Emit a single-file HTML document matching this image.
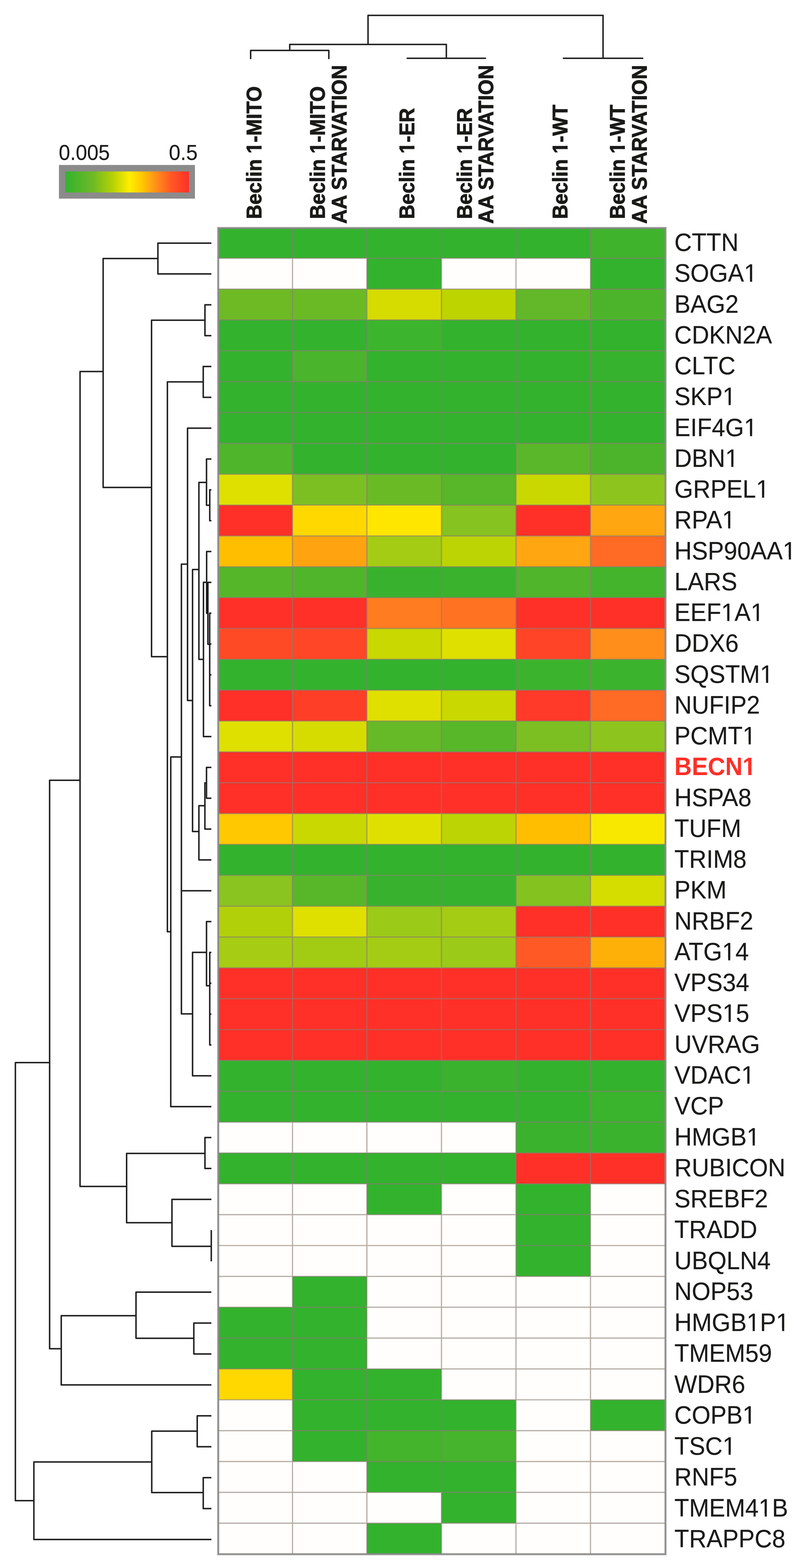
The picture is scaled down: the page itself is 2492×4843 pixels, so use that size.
<!DOCTYPE html>
<html lang="en"><head><meta charset="utf-8"><title>Beclin 1 interactome heatmap</title>
<style>
html,body{margin:0;padding:0;background:#fff;}
body{width:2492px;height:4843px;overflow:hidden;}
svg{display:block;}
.rl{font-family:"Liberation Sans",Arial,Helvetica,sans-serif;font-size:78px;fill:#1a1a18;stroke:#1a1a18;stroke-opacity:0.3;stroke-width:1.1px;paint-order:stroke;}
.cl{font-family:"Liberation Sans",Arial,Helvetica,sans-serif;font-size:64.5px;font-weight:bold;fill:#1a1a18;stroke:#1a1a18;stroke-width:1.5px;stroke-linejoin:round;paint-order:stroke;}
.sc{font-family:"Liberation Sans",Arial,Helvetica,sans-serif;font-size:67px;fill:#1a1a18;stroke:#1a1a18;stroke-opacity:0.3;stroke-width:1.0px;paint-order:stroke;}
.dn{fill:none;stroke:#1b1b1b;stroke-width:4;stroke-linejoin:round;stroke-linecap:butt;}
.dh{fill:none;stroke:#1b1b1b;stroke-opacity:0.3;stroke-width:5.6;stroke-linejoin:round;stroke-linecap:butt;}
</style></head><body>
<svg width="2492" height="4843" viewBox="0 0 2492 4843">
<defs><linearGradient id="cb" x1="0" y1="0" x2="1" y2="0">
<stop offset="0" stop-color="#33b22e"/>
<stop offset="0.22" stop-color="#6db926"/>
<stop offset="0.38" stop-color="#b4d005"/>
<stop offset="0.52" stop-color="#ffee00"/>
<stop offset="0.62" stop-color="#ffc800"/>
<stop offset="0.72" stop-color="#ff9618"/>
<stop offset="0.85" stop-color="#ff5a24"/>
<stop offset="1" stop-color="#ff3028"/>
</linearGradient>
<clipPath id="k1"><path clip-rule="evenodd" d="M-30 -85.8H298.8V31.2H-30ZM228.33 -7.43H245.00V3H228.33ZM251.90 -7.43H267.96V3H251.90Z"/></clipPath>
<clipPath id="k2"><path clip-rule="evenodd" d="M-30 -85.8H229.5V31.2H-30ZM159.00 -7.43H175.68V3H159.00ZM182.57 -7.43H198.63V3H182.57Z"/></clipPath>
<clipPath id="k3"><path clip-rule="evenodd" d="M-30 -85.8H298.8V31.2H-30ZM228.33 -7.43H245.00V3H228.33ZM251.90 -7.43H267.96V3H251.90Z"/></clipPath>
<clipPath id="k4"><path clip-rule="evenodd" d="M-30 -85.8H238.1V31.2H-30ZM167.61 -7.43H184.29V3H167.61ZM191.18 -7.43H207.24V3H191.18Z"/></clipPath>
<clipPath id="k5"><path clip-rule="evenodd" d="M-30 -85.8H337.8V31.2H-30ZM267.36 -7.43H284.04V3H267.36ZM290.93 -7.43H306.99V3H290.93Z"/></clipPath>
<clipPath id="k6"><path clip-rule="evenodd" d="M-30 -85.8H228.0V31.2H-30ZM157.52 -7.43H174.19V3H157.52ZM181.09 -7.43H197.15V3H181.09Z"/></clipPath>
<clipPath id="k7"><path clip-rule="evenodd" d="M-30 -85.8H424.6V31.2H-30ZM354.13 -7.43H370.80V3H354.13ZM377.70 -7.43H393.76V3H377.70Z"/></clipPath>
<clipPath id="k8"><path clip-rule="evenodd" d="M-30 -85.8H320.5V31.2H-30ZM154.63 -7.43H171.30V3H154.63ZM178.20 -7.43H194.26V3H178.20ZM250.04 -7.43H266.71V3H250.04ZM273.60 -7.43H289.67V3H273.60Z"/></clipPath>
<clipPath id="k9"><path clip-rule="evenodd" d="M-30 -85.8H350.7V31.2H-30ZM280.27 -7.43H296.94V3H280.27ZM303.84 -7.43H319.90V3H303.84Z"/></clipPath>
<clipPath id="k10"><path clip-rule="evenodd" d="M-30 -85.8H294.4V31.2H-30ZM223.91 -7.43H240.58V3H223.91ZM247.48 -7.43H263.54V3H247.48Z"/></clipPath>
<clipPath id="k11"><path clip-rule="evenodd" d="M-30 -85.8H294.4V31.2H-30ZM222.91 -9.56H239.21V3H222.91ZM249.91 -9.56H265.21V3H249.91Z"/></clipPath>
<clipPath id="k12"><path clip-rule="evenodd" d="M-30 -85.8H271.3V31.2H-30ZM157.49 -7.43H174.16V3H157.49ZM181.05 -7.43H197.12V3H181.05Z"/></clipPath>
<clipPath id="k13"><path clip-rule="evenodd" d="M-30 -85.8H272.8V31.2H-30ZM159.00 -7.43H175.68V3H159.00ZM182.57 -7.43H198.63V3H182.57Z"/></clipPath>
<clipPath id="k14"><path clip-rule="evenodd" d="M-30 -85.8H290.1V31.2H-30ZM219.64 -7.43H236.32V3H219.64ZM243.21 -7.43H259.27V3H243.21Z"/></clipPath>
<clipPath id="k15"><path clip-rule="evenodd" d="M-30 -85.8H307.4V31.2H-30ZM236.94 -7.43H253.61V3H236.94ZM260.51 -7.43H276.57V3H260.51Z"/></clipPath>
<clipPath id="k16"><path clip-rule="evenodd" d="M-30 -85.8H402.8V31.2H-30ZM236.94 -7.43H253.61V3H236.94ZM260.51 -7.43H276.57V3H260.51ZM332.33 -7.43H349.00V3H332.33ZM355.90 -7.43H371.96V3H355.90Z"/></clipPath>
<clipPath id="k17"><path clip-rule="evenodd" d="M-30 -85.8H294.4V31.2H-30ZM223.99 -7.43H240.66V3H223.99ZM247.55 -7.43H263.62V3H247.55Z"/></clipPath>
<clipPath id="k18"><path clip-rule="evenodd" d="M-30 -85.8H229.4V31.2H-30ZM158.94 -7.43H175.61V3H158.94ZM182.51 -7.43H198.57V3H182.51Z"/></clipPath>
<clipPath id="k19"><path clip-rule="evenodd" d="M-30 -85.8H398.4V31.2H-30ZM275.94 -7.43H292.61V3H275.94ZM299.51 -7.43H315.57V3H299.51Z"/></clipPath>
<clipPath id="k20"><path clip-rule="evenodd" d="M-30 -71.0H458.9V25.8H-30ZM212.53 -8.93H225.77V3H212.53ZM236.12 -8.93H248.55V3H236.12Z"/></clipPath>
<clipPath id="k21"><path clip-rule="evenodd" d="M-30 -71.0H388.4V25.8H-30ZM212.53 -8.93H225.77V3H212.53ZM236.12 -8.93H248.55V3H236.12Z"/></clipPath>
<clipPath id="k22"><path clip-rule="evenodd" d="M-30 -71.0H399.1V25.8H-30ZM212.53 -8.93H225.77V3H212.53ZM236.12 -8.93H248.55V3H236.12Z"/></clipPath>
</defs>
<rect x="0" y="0" width="2492" height="4843" fill="#ffffff"/>
<g id="scale">
<rect x="182" y="509.5" width="420" height="104" fill="#8b8b8b"/>
<rect x="201.5" y="529.5" width="382" height="65" fill="url(#cb)"/>
<text class="sc" transform="translate(181.5,494.3) scale(0.94,1)">0.005</text>
<text class="sc" transform="translate(521.5,494.3) scale(0.955,1)">0.5</text>
</g>
<g id="cells">
<rect x="673.9" y="704.3" width="229.3" height="93.3" fill="#33b22e"/>
<rect x="903.2" y="704.3" width="229.7" height="93.3" fill="#33b22e"/>
<rect x="1132.9" y="704.3" width="230.3" height="93.3" fill="#33b22e"/>
<rect x="1363.2" y="704.3" width="230.1" height="93.3" fill="#33b22e"/>
<rect x="1593.3" y="704.3" width="230.1" height="93.3" fill="#33b22e"/>
<rect x="1823.4" y="704.3" width="231.6" height="93.3" fill="#40b32d"/>
<rect x="673.9" y="797.6" width="229.3" height="95.3" fill="#fffefc"/>
<rect x="903.2" y="797.6" width="229.7" height="95.3" fill="#fffefc"/>
<rect x="1132.9" y="797.6" width="230.3" height="95.3" fill="#33b22e"/>
<rect x="1363.2" y="797.6" width="230.1" height="95.3" fill="#fffefc"/>
<rect x="1593.3" y="797.6" width="230.1" height="95.3" fill="#fffefc"/>
<rect x="1823.4" y="797.6" width="231.6" height="95.3" fill="#33b22e"/>
<rect x="673.9" y="892.9" width="229.3" height="95.3" fill="#6dba25"/>
<rect x="903.2" y="892.9" width="229.7" height="95.3" fill="#6aba26"/>
<rect x="1132.9" y="892.9" width="230.3" height="95.3" fill="#d6dc00"/>
<rect x="1363.2" y="892.9" width="230.1" height="95.3" fill="#bdd400"/>
<rect x="1593.3" y="892.9" width="230.1" height="95.3" fill="#62b828"/>
<rect x="1823.4" y="892.9" width="231.6" height="95.3" fill="#4cb42b"/>
<rect x="673.9" y="988.2" width="229.3" height="95.3" fill="#33b22e"/>
<rect x="903.2" y="988.2" width="229.7" height="95.3" fill="#33b22e"/>
<rect x="1132.9" y="988.2" width="230.3" height="95.3" fill="#3db42d"/>
<rect x="1363.2" y="988.2" width="230.1" height="95.3" fill="#33b22e"/>
<rect x="1593.3" y="988.2" width="230.1" height="95.3" fill="#33b22e"/>
<rect x="1823.4" y="988.2" width="231.6" height="95.3" fill="#33b22e"/>
<rect x="673.9" y="1083.5" width="229.3" height="95.3" fill="#33b22e"/>
<rect x="903.2" y="1083.5" width="229.7" height="95.3" fill="#4ab42c"/>
<rect x="1132.9" y="1083.5" width="230.3" height="95.3" fill="#33b22e"/>
<rect x="1363.2" y="1083.5" width="230.1" height="95.3" fill="#33b22e"/>
<rect x="1593.3" y="1083.5" width="230.1" height="95.3" fill="#33b22e"/>
<rect x="1823.4" y="1083.5" width="231.6" height="95.3" fill="#36b22e"/>
<rect x="673.9" y="1178.8" width="229.3" height="95.3" fill="#33b22e"/>
<rect x="903.2" y="1178.8" width="229.7" height="95.3" fill="#33b22e"/>
<rect x="1132.9" y="1178.8" width="230.3" height="95.3" fill="#33b22e"/>
<rect x="1363.2" y="1178.8" width="230.1" height="95.3" fill="#33b22e"/>
<rect x="1593.3" y="1178.8" width="230.1" height="95.3" fill="#33b22e"/>
<rect x="1823.4" y="1178.8" width="231.6" height="95.3" fill="#33b22e"/>
<rect x="673.9" y="1274.1" width="229.3" height="95.3" fill="#33b22e"/>
<rect x="903.2" y="1274.1" width="229.7" height="95.3" fill="#33b22e"/>
<rect x="1132.9" y="1274.1" width="230.3" height="95.3" fill="#33b22e"/>
<rect x="1363.2" y="1274.1" width="230.1" height="95.3" fill="#33b22e"/>
<rect x="1593.3" y="1274.1" width="230.1" height="95.3" fill="#33b22e"/>
<rect x="1823.4" y="1274.1" width="231.6" height="95.3" fill="#33b22e"/>
<rect x="673.9" y="1369.4" width="229.3" height="95.3" fill="#4fb52b"/>
<rect x="903.2" y="1369.4" width="229.7" height="95.3" fill="#33b22e"/>
<rect x="1132.9" y="1369.4" width="230.3" height="95.3" fill="#33b22e"/>
<rect x="1363.2" y="1369.4" width="230.1" height="95.3" fill="#33b22e"/>
<rect x="1593.3" y="1369.4" width="230.1" height="95.3" fill="#5ab729"/>
<rect x="1823.4" y="1369.4" width="231.6" height="95.3" fill="#4cb42b"/>
<rect x="673.9" y="1464.7" width="229.3" height="95.3" fill="#dfe000"/>
<rect x="903.2" y="1464.7" width="229.7" height="95.3" fill="#7cbf22"/>
<rect x="1132.9" y="1464.7" width="230.3" height="95.3" fill="#6aba26"/>
<rect x="1363.2" y="1464.7" width="230.1" height="95.3" fill="#58b629"/>
<rect x="1593.3" y="1464.7" width="230.1" height="95.3" fill="#c8d800"/>
<rect x="1823.4" y="1464.7" width="231.6" height="95.3" fill="#8ec41e"/>
<rect x="673.9" y="1560.0" width="229.3" height="95.3" fill="#ff3028"/>
<rect x="903.2" y="1560.0" width="229.7" height="95.3" fill="#ffd800"/>
<rect x="1132.9" y="1560.0" width="230.3" height="95.3" fill="#ffe600"/>
<rect x="1363.2" y="1560.0" width="230.1" height="95.3" fill="#86c220"/>
<rect x="1593.3" y="1560.0" width="230.1" height="95.3" fill="#ff3028"/>
<rect x="1823.4" y="1560.0" width="231.6" height="95.3" fill="#ffa610"/>
<rect x="673.9" y="1655.3" width="229.3" height="95.3" fill="#ffbe00"/>
<rect x="903.2" y="1655.3" width="229.7" height="95.3" fill="#ffa410"/>
<rect x="1132.9" y="1655.3" width="230.3" height="95.3" fill="#a4cc14"/>
<rect x="1363.2" y="1655.3" width="230.1" height="95.3" fill="#bcd404"/>
<rect x="1593.3" y="1655.3" width="230.1" height="95.3" fill="#ffa610"/>
<rect x="1823.4" y="1655.3" width="231.6" height="95.3" fill="#ff6a24"/>
<rect x="673.9" y="1750.6" width="229.3" height="95.3" fill="#56b62a"/>
<rect x="903.2" y="1750.6" width="229.7" height="95.3" fill="#50b52b"/>
<rect x="1132.9" y="1750.6" width="230.3" height="95.3" fill="#38b22e"/>
<rect x="1363.2" y="1750.6" width="230.1" height="95.3" fill="#3ab22e"/>
<rect x="1593.3" y="1750.6" width="230.1" height="95.3" fill="#50b52b"/>
<rect x="1823.4" y="1750.6" width="231.6" height="95.3" fill="#44b42c"/>
<rect x="673.9" y="1845.8" width="229.3" height="95.3" fill="#ff3028"/>
<rect x="903.2" y="1845.8" width="229.7" height="95.3" fill="#ff3028"/>
<rect x="1132.9" y="1845.8" width="230.3" height="95.3" fill="#ff7c20"/>
<rect x="1363.2" y="1845.8" width="230.1" height="95.3" fill="#ff7222"/>
<rect x="1593.3" y="1845.8" width="230.1" height="95.3" fill="#ff3028"/>
<rect x="1823.4" y="1845.8" width="231.6" height="95.3" fill="#ff3028"/>
<rect x="673.9" y="1941.1" width="229.3" height="95.3" fill="#ff4a26"/>
<rect x="903.2" y="1941.1" width="229.7" height="95.3" fill="#ff4626"/>
<rect x="1132.9" y="1941.1" width="230.3" height="95.3" fill="#c8d800"/>
<rect x="1363.2" y="1941.1" width="230.1" height="95.3" fill="#dfe000"/>
<rect x="1593.3" y="1941.1" width="230.1" height="95.3" fill="#ff4428"/>
<rect x="1823.4" y="1941.1" width="231.6" height="95.3" fill="#ff8e1a"/>
<rect x="673.9" y="2036.4" width="229.3" height="95.3" fill="#33b22e"/>
<rect x="903.2" y="2036.4" width="229.7" height="95.3" fill="#33b22e"/>
<rect x="1132.9" y="2036.4" width="230.3" height="95.3" fill="#33b22e"/>
<rect x="1363.2" y="2036.4" width="230.1" height="95.3" fill="#33b22e"/>
<rect x="1593.3" y="2036.4" width="230.1" height="95.3" fill="#3cb32d"/>
<rect x="1823.4" y="2036.4" width="231.6" height="95.3" fill="#3cb32d"/>
<rect x="673.9" y="2131.7" width="229.3" height="95.3" fill="#ff3028"/>
<rect x="903.2" y="2131.7" width="229.7" height="95.3" fill="#ff3e28"/>
<rect x="1132.9" y="2131.7" width="230.3" height="95.3" fill="#dfe000"/>
<rect x="1363.2" y="2131.7" width="230.1" height="95.3" fill="#c8d800"/>
<rect x="1593.3" y="2131.7" width="230.1" height="95.3" fill="#ff3a28"/>
<rect x="1823.4" y="2131.7" width="231.6" height="95.3" fill="#ff6a24"/>
<rect x="673.9" y="2227.0" width="229.3" height="95.3" fill="#dfe000"/>
<rect x="903.2" y="2227.0" width="229.7" height="95.3" fill="#d6dc00"/>
<rect x="1132.9" y="2227.0" width="230.3" height="95.3" fill="#66b927"/>
<rect x="1363.2" y="2227.0" width="230.1" height="95.3" fill="#58b629"/>
<rect x="1593.3" y="2227.0" width="230.1" height="95.3" fill="#7cbf22"/>
<rect x="1823.4" y="2227.0" width="231.6" height="95.3" fill="#8ec41e"/>
<rect x="673.9" y="2322.3" width="229.3" height="95.3" fill="#ff3028"/>
<rect x="903.2" y="2322.3" width="229.7" height="95.3" fill="#ff3028"/>
<rect x="1132.9" y="2322.3" width="230.3" height="95.3" fill="#ff3028"/>
<rect x="1363.2" y="2322.3" width="230.1" height="95.3" fill="#ff3028"/>
<rect x="1593.3" y="2322.3" width="230.1" height="95.3" fill="#ff3028"/>
<rect x="1823.4" y="2322.3" width="231.6" height="95.3" fill="#ff3028"/>
<rect x="673.9" y="2417.6" width="229.3" height="95.3" fill="#ff3028"/>
<rect x="903.2" y="2417.6" width="229.7" height="95.3" fill="#ff3028"/>
<rect x="1132.9" y="2417.6" width="230.3" height="95.3" fill="#ff3028"/>
<rect x="1363.2" y="2417.6" width="230.1" height="95.3" fill="#ff3028"/>
<rect x="1593.3" y="2417.6" width="230.1" height="95.3" fill="#ff3028"/>
<rect x="1823.4" y="2417.6" width="231.6" height="95.3" fill="#ff3028"/>
<rect x="673.9" y="2512.9" width="229.3" height="95.3" fill="#ffc800"/>
<rect x="903.2" y="2512.9" width="229.7" height="95.3" fill="#c8d800"/>
<rect x="1132.9" y="2512.9" width="230.3" height="95.3" fill="#e0e000"/>
<rect x="1363.2" y="2512.9" width="230.1" height="95.3" fill="#bcd404"/>
<rect x="1593.3" y="2512.9" width="230.1" height="95.3" fill="#ffbe00"/>
<rect x="1823.4" y="2512.9" width="231.6" height="95.3" fill="#f8e800"/>
<rect x="673.9" y="2608.2" width="229.3" height="95.3" fill="#33b22e"/>
<rect x="903.2" y="2608.2" width="229.7" height="95.3" fill="#33b22e"/>
<rect x="1132.9" y="2608.2" width="230.3" height="95.3" fill="#33b22e"/>
<rect x="1363.2" y="2608.2" width="230.1" height="95.3" fill="#33b22e"/>
<rect x="1593.3" y="2608.2" width="230.1" height="95.3" fill="#33b22e"/>
<rect x="1823.4" y="2608.2" width="231.6" height="95.3" fill="#33b22e"/>
<rect x="673.9" y="2703.5" width="229.3" height="95.3" fill="#8ac420"/>
<rect x="903.2" y="2703.5" width="229.7" height="95.3" fill="#58b629"/>
<rect x="1132.9" y="2703.5" width="230.3" height="95.3" fill="#38b22e"/>
<rect x="1363.2" y="2703.5" width="230.1" height="95.3" fill="#36b22e"/>
<rect x="1593.3" y="2703.5" width="230.1" height="95.3" fill="#84c220"/>
<rect x="1823.4" y="2703.5" width="231.6" height="95.3" fill="#d4dc00"/>
<rect x="673.9" y="2798.8" width="229.3" height="95.3" fill="#b2d00a"/>
<rect x="903.2" y="2798.8" width="229.7" height="95.3" fill="#e0e000"/>
<rect x="1132.9" y="2798.8" width="230.3" height="95.3" fill="#9cca18"/>
<rect x="1363.2" y="2798.8" width="230.1" height="95.3" fill="#a4cc14"/>
<rect x="1593.3" y="2798.8" width="230.1" height="95.3" fill="#ff3028"/>
<rect x="1823.4" y="2798.8" width="231.6" height="95.3" fill="#ff3028"/>
<rect x="673.9" y="2894.1" width="229.3" height="95.3" fill="#a6cc14"/>
<rect x="903.2" y="2894.1" width="229.7" height="95.3" fill="#a2cc14"/>
<rect x="1132.9" y="2894.1" width="230.3" height="95.3" fill="#a4cc14"/>
<rect x="1363.2" y="2894.1" width="230.1" height="95.3" fill="#9cca18"/>
<rect x="1593.3" y="2894.1" width="230.1" height="95.3" fill="#ff5a26"/>
<rect x="1823.4" y="2894.1" width="231.6" height="95.3" fill="#ffb008"/>
<rect x="673.9" y="2989.4" width="229.3" height="95.3" fill="#ff3028"/>
<rect x="903.2" y="2989.4" width="229.7" height="95.3" fill="#ff3028"/>
<rect x="1132.9" y="2989.4" width="230.3" height="95.3" fill="#ff3028"/>
<rect x="1363.2" y="2989.4" width="230.1" height="95.3" fill="#ff3028"/>
<rect x="1593.3" y="2989.4" width="230.1" height="95.3" fill="#ff3028"/>
<rect x="1823.4" y="2989.4" width="231.6" height="95.3" fill="#ff3028"/>
<rect x="673.9" y="3084.7" width="229.3" height="95.3" fill="#ff3028"/>
<rect x="903.2" y="3084.7" width="229.7" height="95.3" fill="#ff3028"/>
<rect x="1132.9" y="3084.7" width="230.3" height="95.3" fill="#ff3028"/>
<rect x="1363.2" y="3084.7" width="230.1" height="95.3" fill="#ff3028"/>
<rect x="1593.3" y="3084.7" width="230.1" height="95.3" fill="#ff3028"/>
<rect x="1823.4" y="3084.7" width="231.6" height="95.3" fill="#ff3028"/>
<rect x="673.9" y="3180.0" width="229.3" height="95.3" fill="#ff3028"/>
<rect x="903.2" y="3180.0" width="229.7" height="95.3" fill="#ff3028"/>
<rect x="1132.9" y="3180.0" width="230.3" height="95.3" fill="#ff3028"/>
<rect x="1363.2" y="3180.0" width="230.1" height="95.3" fill="#ff3028"/>
<rect x="1593.3" y="3180.0" width="230.1" height="95.3" fill="#ff3028"/>
<rect x="1823.4" y="3180.0" width="231.6" height="95.3" fill="#ff3028"/>
<rect x="673.9" y="3275.3" width="229.3" height="95.3" fill="#33b22e"/>
<rect x="903.2" y="3275.3" width="229.7" height="95.3" fill="#33b22e"/>
<rect x="1132.9" y="3275.3" width="230.3" height="95.3" fill="#33b22e"/>
<rect x="1363.2" y="3275.3" width="230.1" height="95.3" fill="#3ab22e"/>
<rect x="1593.3" y="3275.3" width="230.1" height="95.3" fill="#33b22e"/>
<rect x="1823.4" y="3275.3" width="231.6" height="95.3" fill="#33b22e"/>
<rect x="673.9" y="3370.6" width="229.3" height="95.3" fill="#33b22e"/>
<rect x="903.2" y="3370.6" width="229.7" height="95.3" fill="#33b22e"/>
<rect x="1132.9" y="3370.6" width="230.3" height="95.3" fill="#33b22e"/>
<rect x="1363.2" y="3370.6" width="230.1" height="95.3" fill="#33b22e"/>
<rect x="1593.3" y="3370.6" width="230.1" height="95.3" fill="#33b22e"/>
<rect x="1823.4" y="3370.6" width="231.6" height="95.3" fill="#3ab32d"/>
<rect x="673.9" y="3465.9" width="229.3" height="95.3" fill="#fffefc"/>
<rect x="903.2" y="3465.9" width="229.7" height="95.3" fill="#fffefc"/>
<rect x="1132.9" y="3465.9" width="230.3" height="95.3" fill="#fffefc"/>
<rect x="1363.2" y="3465.9" width="230.1" height="95.3" fill="#fffefc"/>
<rect x="1593.3" y="3465.9" width="230.1" height="95.3" fill="#3ab22e"/>
<rect x="1823.4" y="3465.9" width="231.6" height="95.3" fill="#3ab22e"/>
<rect x="673.9" y="3561.2" width="229.3" height="95.3" fill="#33b22e"/>
<rect x="903.2" y="3561.2" width="229.7" height="95.3" fill="#33b22e"/>
<rect x="1132.9" y="3561.2" width="230.3" height="95.3" fill="#33b22e"/>
<rect x="1363.2" y="3561.2" width="230.1" height="95.3" fill="#33b22e"/>
<rect x="1593.3" y="3561.2" width="230.1" height="95.3" fill="#ff3028"/>
<rect x="1823.4" y="3561.2" width="231.6" height="95.3" fill="#ff3028"/>
<rect x="673.9" y="3656.4" width="229.3" height="95.3" fill="#fffefc"/>
<rect x="903.2" y="3656.4" width="229.7" height="95.3" fill="#fffefc"/>
<rect x="1132.9" y="3656.4" width="230.3" height="95.3" fill="#33b22e"/>
<rect x="1363.2" y="3656.4" width="230.1" height="95.3" fill="#fffefc"/>
<rect x="1593.3" y="3656.4" width="230.1" height="95.3" fill="#33b22e"/>
<rect x="1823.4" y="3656.4" width="231.6" height="95.3" fill="#fffefc"/>
<rect x="673.9" y="3751.7" width="229.3" height="95.3" fill="#fffefc"/>
<rect x="903.2" y="3751.7" width="229.7" height="95.3" fill="#fffefc"/>
<rect x="1132.9" y="3751.7" width="230.3" height="95.3" fill="#fffefc"/>
<rect x="1363.2" y="3751.7" width="230.1" height="95.3" fill="#fffefc"/>
<rect x="1593.3" y="3751.7" width="230.1" height="95.3" fill="#33b22e"/>
<rect x="1823.4" y="3751.7" width="231.6" height="95.3" fill="#fffefc"/>
<rect x="673.9" y="3847.0" width="229.3" height="95.3" fill="#fffefc"/>
<rect x="903.2" y="3847.0" width="229.7" height="95.3" fill="#fffefc"/>
<rect x="1132.9" y="3847.0" width="230.3" height="95.3" fill="#fffefc"/>
<rect x="1363.2" y="3847.0" width="230.1" height="95.3" fill="#fffefc"/>
<rect x="1593.3" y="3847.0" width="230.1" height="95.3" fill="#33b22e"/>
<rect x="1823.4" y="3847.0" width="231.6" height="95.3" fill="#fffefc"/>
<rect x="673.9" y="3942.3" width="229.3" height="95.3" fill="#fffefc"/>
<rect x="903.2" y="3942.3" width="229.7" height="95.3" fill="#33b22e"/>
<rect x="1132.9" y="3942.3" width="230.3" height="95.3" fill="#fffefc"/>
<rect x="1363.2" y="3942.3" width="230.1" height="95.3" fill="#fffefc"/>
<rect x="1593.3" y="3942.3" width="230.1" height="95.3" fill="#fffefc"/>
<rect x="1823.4" y="3942.3" width="231.6" height="95.3" fill="#fffefc"/>
<rect x="673.9" y="4037.6" width="229.3" height="95.3" fill="#33b22e"/>
<rect x="903.2" y="4037.6" width="229.7" height="95.3" fill="#33b22e"/>
<rect x="1132.9" y="4037.6" width="230.3" height="95.3" fill="#fffefc"/>
<rect x="1363.2" y="4037.6" width="230.1" height="95.3" fill="#fffefc"/>
<rect x="1593.3" y="4037.6" width="230.1" height="95.3" fill="#fffefc"/>
<rect x="1823.4" y="4037.6" width="231.6" height="95.3" fill="#fffefc"/>
<rect x="673.9" y="4132.9" width="229.3" height="95.3" fill="#33b22e"/>
<rect x="903.2" y="4132.9" width="229.7" height="95.3" fill="#33b22e"/>
<rect x="1132.9" y="4132.9" width="230.3" height="95.3" fill="#fffefc"/>
<rect x="1363.2" y="4132.9" width="230.1" height="95.3" fill="#fffefc"/>
<rect x="1593.3" y="4132.9" width="230.1" height="95.3" fill="#fffefc"/>
<rect x="1823.4" y="4132.9" width="231.6" height="95.3" fill="#fffefc"/>
<rect x="673.9" y="4228.2" width="229.3" height="95.3" fill="#ffd800"/>
<rect x="903.2" y="4228.2" width="229.7" height="95.3" fill="#33b22e"/>
<rect x="1132.9" y="4228.2" width="230.3" height="95.3" fill="#33b22e"/>
<rect x="1363.2" y="4228.2" width="230.1" height="95.3" fill="#fffefc"/>
<rect x="1593.3" y="4228.2" width="230.1" height="95.3" fill="#fffefc"/>
<rect x="1823.4" y="4228.2" width="231.6" height="95.3" fill="#fffefc"/>
<rect x="673.9" y="4323.5" width="229.3" height="95.3" fill="#fffefc"/>
<rect x="903.2" y="4323.5" width="229.7" height="95.3" fill="#33b22e"/>
<rect x="1132.9" y="4323.5" width="230.3" height="95.3" fill="#33b22e"/>
<rect x="1363.2" y="4323.5" width="230.1" height="95.3" fill="#33b22e"/>
<rect x="1593.3" y="4323.5" width="230.1" height="95.3" fill="#fffefc"/>
<rect x="1823.4" y="4323.5" width="231.6" height="95.3" fill="#33b22e"/>
<rect x="673.9" y="4418.8" width="229.3" height="95.3" fill="#fffefc"/>
<rect x="903.2" y="4418.8" width="229.7" height="95.3" fill="#33b22e"/>
<rect x="1132.9" y="4418.8" width="230.3" height="95.3" fill="#44b42c"/>
<rect x="1363.2" y="4418.8" width="230.1" height="95.3" fill="#46b42c"/>
<rect x="1593.3" y="4418.8" width="230.1" height="95.3" fill="#fffefc"/>
<rect x="1823.4" y="4418.8" width="231.6" height="95.3" fill="#fffefc"/>
<rect x="673.9" y="4514.1" width="229.3" height="95.3" fill="#fffefc"/>
<rect x="903.2" y="4514.1" width="229.7" height="95.3" fill="#fffefc"/>
<rect x="1132.9" y="4514.1" width="230.3" height="95.3" fill="#33b22e"/>
<rect x="1363.2" y="4514.1" width="230.1" height="95.3" fill="#33b22e"/>
<rect x="1593.3" y="4514.1" width="230.1" height="95.3" fill="#fffefc"/>
<rect x="1823.4" y="4514.1" width="231.6" height="95.3" fill="#fffefc"/>
<rect x="673.9" y="4609.4" width="229.3" height="95.3" fill="#fffefc"/>
<rect x="903.2" y="4609.4" width="229.7" height="95.3" fill="#fffefc"/>
<rect x="1132.9" y="4609.4" width="230.3" height="95.3" fill="#fffefc"/>
<rect x="1363.2" y="4609.4" width="230.1" height="95.3" fill="#33b22e"/>
<rect x="1593.3" y="4609.4" width="230.1" height="95.3" fill="#fffefc"/>
<rect x="1823.4" y="4609.4" width="231.6" height="95.3" fill="#fffefc"/>
<rect x="673.9" y="4704.7" width="229.3" height="95.7" fill="#fffefc"/>
<rect x="903.2" y="4704.7" width="229.7" height="95.7" fill="#fffefc"/>
<rect x="1132.9" y="4704.7" width="230.3" height="95.7" fill="#33b22e"/>
<rect x="1363.2" y="4704.7" width="230.1" height="95.7" fill="#fffefc"/>
<rect x="1593.3" y="4704.7" width="230.1" height="95.7" fill="#fffefc"/>
<rect x="1823.4" y="4704.7" width="231.6" height="95.7" fill="#fffefc"/>
</g>
<path id="grid-soft" d="M673.9 797.6H2055.0M673.9 892.9H2055.0M673.9 988.2H2055.0M673.9 1083.5H2055.0M673.9 1178.8H2055.0M673.9 1274.1H2055.0M673.9 1369.4H2055.0M673.9 1464.7H2055.0M673.9 1560.0H2055.0M673.9 1655.3H2055.0M673.9 1750.6H2055.0M673.9 1845.8H2055.0M673.9 1941.1H2055.0M673.9 2036.4H2055.0M673.9 2131.7H2055.0M673.9 2227.0H2055.0M673.9 2322.3H2055.0M673.9 2417.6H2055.0M673.9 2512.9H2055.0M673.9 2608.2H2055.0M673.9 2703.5H2055.0M673.9 2798.8H2055.0M673.9 2894.1H2055.0M673.9 2989.4H2055.0M673.9 3084.7H2055.0M673.9 3180.0H2055.0M673.9 3275.3H2055.0M673.9 3370.6H2055.0M673.9 3465.9H2055.0M673.9 3561.2H2055.0M673.9 3656.4H2055.0M673.9 3751.7H2055.0M673.9 3847.0H2055.0M673.9 3942.3H2055.0M673.9 4037.6H2055.0M673.9 4132.9H2055.0M673.9 4228.2H2055.0M673.9 4323.5H2055.0M673.9 4418.8H2055.0M673.9 4514.1H2055.0M673.9 4609.4H2055.0M673.9 4704.7H2055.0M903.2 704.3V4800.4M1132.9 704.3V4800.4M1363.2 704.3V4800.4M1593.3 704.3V4800.4M1823.4 704.3V4800.4" stroke="#8c7a72" stroke-opacity="0.22" stroke-width="5.2" fill="none"/>
<path id="grid" d="M673.9 797.6H2055.0M673.9 892.9H2055.0M673.9 988.2H2055.0M673.9 1083.5H2055.0M673.9 1178.8H2055.0M673.9 1274.1H2055.0M673.9 1369.4H2055.0M673.9 1464.7H2055.0M673.9 1560.0H2055.0M673.9 1655.3H2055.0M673.9 1750.6H2055.0M673.9 1845.8H2055.0M673.9 1941.1H2055.0M673.9 2036.4H2055.0M673.9 2131.7H2055.0M673.9 2227.0H2055.0M673.9 2322.3H2055.0M673.9 2417.6H2055.0M673.9 2512.9H2055.0M673.9 2608.2H2055.0M673.9 2703.5H2055.0M673.9 2798.8H2055.0M673.9 2894.1H2055.0M673.9 2989.4H2055.0M673.9 3084.7H2055.0M673.9 3180.0H2055.0M673.9 3275.3H2055.0M673.9 3370.6H2055.0M673.9 3465.9H2055.0M673.9 3561.2H2055.0M673.9 3656.4H2055.0M673.9 3751.7H2055.0M673.9 3847.0H2055.0M673.9 3942.3H2055.0M673.9 4037.6H2055.0M673.9 4132.9H2055.0M673.9 4228.2H2055.0M673.9 4323.5H2055.0M673.9 4418.8H2055.0M673.9 4514.1H2055.0M673.9 4609.4H2055.0M673.9 4704.7H2055.0M903.2 704.3V4800.4M1132.9 704.3V4800.4M1363.2 704.3V4800.4M1593.3 704.3V4800.4M1823.4 704.3V4800.4" stroke="#867a70" stroke-opacity="0.65" stroke-width="2.2" fill="none"/>
<rect x="673.9" y="704.3" width="1381.1" height="4096.1" fill="none" stroke="#8a8a8a" stroke-opacity="0.4" stroke-width="7.8"/>
<rect x="673.9" y="704.3" width="1381.1" height="4096.1" fill="none" stroke="#8a8a8a" stroke-width="4.2"/>
<g id="rowlabels">
<text class="rl" transform="translate(2082.5,775.0) scale(0.953,1)">CTTN</text>
<text class="rl" clip-path="url(#k1)" transform="translate(2082.5,870.2) scale(0.953,1)">SOGA1</text>
<text class="rl" transform="translate(2082.5,965.5) scale(0.953,1)">BAG2</text>
<text class="rl" transform="translate(2082.5,1060.8) scale(0.953,1)">CDKN2A</text>
<text class="rl" transform="translate(2082.5,1156.0) scale(0.953,1)">CLTC</text>
<text class="rl" clip-path="url(#k2)" transform="translate(2082.5,1251.2) scale(0.953,1)">SKP1</text>
<text class="rl" clip-path="url(#k3)" transform="translate(2082.5,1346.5) scale(0.953,1)">EIF4G1</text>
<text class="rl" clip-path="url(#k4)" transform="translate(2082.5,1441.8) scale(0.953,1)">DBN1</text>
<text class="rl" clip-path="url(#k5)" transform="translate(2082.5,1537.0) scale(0.953,1)">GRPEL1</text>
<text class="rl" clip-path="url(#k6)" transform="translate(2082.5,1632.2) scale(0.953,1)">RPA1</text>
<text class="rl" clip-path="url(#k7)" transform="translate(2082.5,1727.5) scale(0.953,1)">HSP90AA1</text>
<text class="rl" transform="translate(2082.5,1822.8) scale(0.953,1)">LARS</text>
<text class="rl" clip-path="url(#k8)" transform="translate(2082.5,1918.0) scale(0.953,1)">EEF1A1</text>
<text class="rl" transform="translate(2082.5,2013.2) scale(0.953,1)">DDX6</text>
<text class="rl" clip-path="url(#k9)" transform="translate(2082.5,2108.5) scale(0.953,1)">SQSTM1</text>
<text class="rl" transform="translate(2082.5,2203.8) scale(0.953,1)">NUFIP2</text>
<text class="rl" clip-path="url(#k10)" transform="translate(2082.5,2299.0) scale(0.953,1)">PCMT1</text>
<text class="rl" style="font-weight:bold;fill:#ff3028;stroke:none" clip-path="url(#k11)" transform="translate(2082.5,2394.2) scale(0.953,1)">BECN1</text>
<text class="rl" transform="translate(2082.5,2489.5) scale(0.953,1)">HSPA8</text>
<text class="rl" transform="translate(2082.5,2584.8) scale(0.953,1)">TUFM</text>
<text class="rl" transform="translate(2082.5,2680.0) scale(0.953,1)">TRIM8</text>
<text class="rl" transform="translate(2082.5,2775.2) scale(0.953,1)">PKM</text>
<text class="rl" transform="translate(2082.5,2870.5) scale(0.953,1)">NRBF2</text>
<text class="rl" clip-path="url(#k12)" transform="translate(2082.5,2965.8) scale(0.953,1)">ATG14</text>
<text class="rl" transform="translate(2082.5,3061.0) scale(0.953,1)">VPS34</text>
<text class="rl" clip-path="url(#k13)" transform="translate(2082.5,3156.2) scale(0.953,1)">VPS15</text>
<text class="rl" transform="translate(2082.5,3251.5) scale(0.953,1)">UVRAG</text>
<text class="rl" clip-path="url(#k14)" transform="translate(2082.5,3346.8) scale(0.953,1)">VDAC1</text>
<text class="rl" transform="translate(2082.5,3442.0) scale(0.953,1)">VCP</text>
<text class="rl" clip-path="url(#k15)" transform="translate(2082.5,3537.5) scale(0.953,1)">HMGB1</text>
<text class="rl" transform="translate(2082.5,3633.0) scale(0.953,1)">RUBICON</text>
<text class="rl" transform="translate(2082.5,3728.5) scale(0.953,1)">SREBF2</text>
<text class="rl" transform="translate(2082.5,3824.0) scale(0.953,1)">TRADD</text>
<text class="rl" transform="translate(2082.5,3919.5) scale(0.953,1)">UBQLN4</text>
<text class="rl" transform="translate(2082.5,4015.0) scale(0.953,1)">NOP53</text>
<text class="rl" clip-path="url(#k16)" transform="translate(2082.5,4110.5) scale(0.953,1)">HMGB1P1</text>
<text class="rl" transform="translate(2082.5,4206.0) scale(0.953,1)">TMEM59</text>
<text class="rl" transform="translate(2082.5,4301.5) scale(0.953,1)">WDR6</text>
<text class="rl" clip-path="url(#k17)" transform="translate(2082.5,4397.0) scale(0.953,1)">COPB1</text>
<text class="rl" clip-path="url(#k18)" transform="translate(2082.5,4492.5) scale(0.953,1)">TSC1</text>
<text class="rl" transform="translate(2082.5,4588.0) scale(0.953,1)">RNF5</text>
<text class="rl" clip-path="url(#k19)" transform="translate(2082.5,4683.5) scale(0.953,1)">TMEM41B</text>
<text class="rl" transform="translate(2082.5,4779.0) scale(0.953,1)">TRAPPC8</text>
</g>
<g id="collabels">
<text class="cl" clip-path="url(#k20)" transform="translate(807.4,676.5) rotate(-90) scale(0.957,1)">Beclin 1-MITO</text>
<text class="cl" clip-path="url(#k20)" transform="translate(1003.0,676.5) rotate(-90) scale(0.957,1)">Beclin 1-MITO</text>
<text class="cl" transform="translate(1070.4,691.0) rotate(-90) scale(0.957,1)">AA STARVATION</text>
<text class="cl" clip-path="url(#k21)" transform="translate(1279.1,676.5) rotate(-90) scale(0.957,1)">Beclin 1-ER</text>
<text class="cl" clip-path="url(#k21)" transform="translate(1456.5,676.5) rotate(-90) scale(0.957,1)">Beclin 1-ER</text>
<text class="cl" transform="translate(1523.1,691.0) rotate(-90) scale(0.957,1)">AA STARVATION</text>
<text class="cl" clip-path="url(#k22)" transform="translate(1751.8,676.5) rotate(-90) scale(0.957,1)">Beclin 1-WT</text>
<text class="cl" clip-path="url(#k22)" transform="translate(1929.0,676.5) rotate(-90) scale(0.957,1)">Beclin 1-WT</text>
<text class="cl" transform="translate(1996.6,691.0) rotate(-90) scale(0.957,1)">AA STARVATION</text>
</g>
<g id="dendro-soft" class="dh">
<path d="M652.7 750.9H487.6V846.1H652.7M652.7 941.4H632.9V1036.7H652.7M652.7 1131.9H627.6V1227.2H652.7M652.7 1512.9H647.7V1608.2H652.7M652.7 1417.7H637.7V1560.5H647.7M652.7 1893.9H647.5V2179.7H652.7M647.5 1989.2H652.7M647.5 2084.4H652.7M652.7 1798.7H642.0V1990.0H647.5M652.7 1703.4H638.1V1894.0H642.0M638.1 1798.6H628.3V2274.9H652.7M637.7 1490.0H614.2V2036.6H628.3M652.7 2370.2H637.7V2465.4H652.7M637.7 2418.0H632.7V2560.7H652.7M632.7 2488.6H614.2V2655.9H652.7M614.2 1759.0H594.6V2568.3H614.2M652.7 1322.4H579.1V2163.6H594.6M652.7 2941.7H647.7V3227.4H652.7M647.7 3036.9H652.7M647.7 3132.2H652.7M652.7 2846.4H637.7V3044.6H647.7M637.7 2941.6H594.6V3322.7H652.7M579.1 1742.5H560.2V3131.5H594.6M560.2 2751.2H652.7M560.2 2338.0H527.3V3417.9H652.7M627.6 1179.5H516.9V2877.7H527.3M632.9 989.0H468.0V2028.3H516.9M487.6 798.5H318.5V1505.6H468.0M652.7 3513.4H632.9V3608.9H652.7M652.4 3799.4V3895.9M652.7 3704.4H531.0V3849.4H652.4M632.9 3562.5H391.0V3776.5H531.0M318.5 1147.5H247.2V3664.5H391.0M652.7 4086.4H598.5V4181.9H652.7M652.7 3990.9H420.0V4133.5H598.5M420.0 4063.8H189.1V4277.4H652.7M247.2 2410.0H153.2V4165.7H189.1M652.7 4372.9H609.0V4468.4H652.7M652.7 4563.9H627.6V4659.4H652.7M609.0 4420.3H468.6V4610.0H627.6M468.6 4515.4H104.6V4754.9H652.7M153.2 3282.0H47.5V4635.0H104.6M774.0 182.5V155.8H1015.4V182.5M1257.7 182V180H1498.9V182M1740.0 182V180H1984.5V182M894.7 155.8V137.3H1378.3V180M1136.5 137.3V47.5H1862.2V180"/>
</g>
<g id="dendro" class="dn">
<path d="M652.7 750.9H487.6V846.1H652.7"/>
<path d="M652.7 941.4H632.9V1036.7H652.7"/>
<path d="M652.7 1131.9H627.6V1227.2H652.7"/>
<path d="M652.7 1512.9H647.7V1608.2H652.7"/>
<path d="M652.7 1417.7H637.7V1560.5H647.7"/>
<path d="M652.7 1893.9H647.5V2179.7H652.7"/>
<path d="M647.5 1989.2H652.7"/>
<path d="M647.5 2084.4H652.7"/>
<path d="M652.7 1798.7H642.0V1990.0H647.5"/>
<path d="M652.7 1703.4H638.1V1894.0H642.0"/>
<path d="M638.1 1798.6H628.3V2274.9H652.7"/>
<path d="M637.7 1490.0H614.2V2036.6H628.3"/>
<path d="M652.7 2370.2H637.7V2465.4H652.7"/>
<path d="M637.7 2418.0H632.7V2560.7H652.7"/>
<path d="M632.7 2488.6H614.2V2655.9H652.7"/>
<path d="M614.2 1759.0H594.6V2568.3H614.2"/>
<path d="M652.7 1322.4H579.1V2163.6H594.6"/>
<path d="M652.7 2941.7H647.7V3227.4H652.7"/>
<path d="M647.7 3036.9H652.7"/>
<path d="M647.7 3132.2H652.7"/>
<path d="M652.7 2846.4H637.7V3044.6H647.7"/>
<path d="M637.7 2941.6H594.6V3322.7H652.7"/>
<path d="M579.1 1742.5H560.2V3131.5H594.6"/>
<path d="M560.2 2751.2H652.7"/>
<path d="M560.2 2338.0H527.3V3417.9H652.7"/>
<path d="M627.6 1179.5H516.9V2877.7H527.3"/>
<path d="M632.9 989.0H468.0V2028.3H516.9"/>
<path d="M487.6 798.5H318.5V1505.6H468.0"/>
<path d="M652.7 3513.4H632.9V3608.9H652.7"/>
<path d="M652.4 3799.4V3895.9"/>
<path d="M652.7 3704.4H531.0V3849.4H652.4"/>
<path d="M632.9 3562.5H391.0V3776.5H531.0"/>
<path d="M318.5 1147.5H247.2V3664.5H391.0"/>
<path d="M652.7 4086.4H598.5V4181.9H652.7"/>
<path d="M652.7 3990.9H420.0V4133.5H598.5"/>
<path d="M420.0 4063.8H189.1V4277.4H652.7"/>
<path d="M247.2 2410.0H153.2V4165.7H189.1"/>
<path d="M652.7 4372.9H609.0V4468.4H652.7"/>
<path d="M652.7 4563.9H627.6V4659.4H652.7"/>
<path d="M609.0 4420.3H468.6V4610.0H627.6"/>
<path d="M468.6 4515.4H104.6V4754.9H652.7"/>
<path d="M153.2 3282.0H47.5V4635.0H104.6"/>
<path d="M774.0 182.5V155.8H1015.4V182.5"/>
<path d="M1257.7 182V180H1498.9V182"/>
<path d="M1740.0 182V180H1984.5V182"/>
<path d="M894.7 155.8V137.3H1378.3V180"/>
<path d="M1136.5 137.3V47.5H1862.2V180"/>
</g>
</svg>
</body></html>
